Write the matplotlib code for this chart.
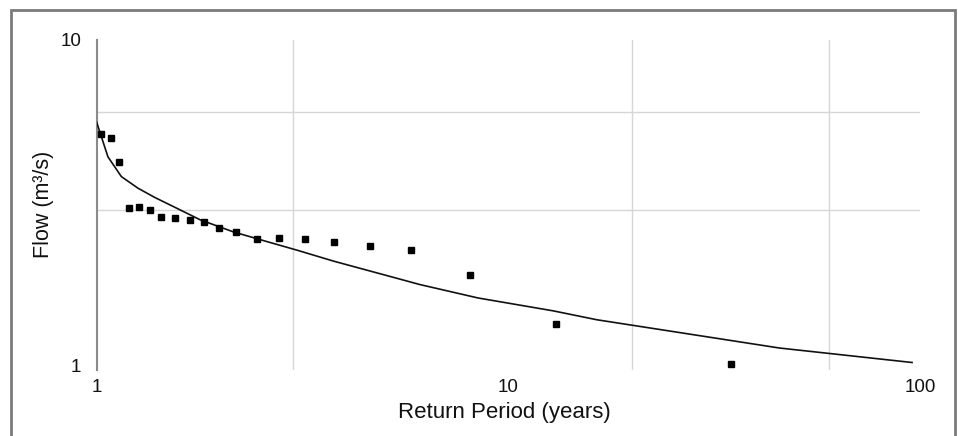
import matplotlib
matplotlib.use("Agg")
import matplotlib.pyplot as plt
from matplotlib.patches import Rectangle
from matplotlib.ticker import NullFormatter, FixedLocator

plt.rcParams['font.family'] = ['Liberation Sans', 'DejaVu Sans']

# Observed annual flows vs return period
obs_period = [1.024, 1.083, 1.134, 1.197, 1.268, 1.347, 1.436, 1.548, 1.684, 1.824,
              1.978, 2.181, 2.449, 2.778, 3.208, 3.778, 4.613, 5.80, 8.07, 13.05, 34.8]
obs_flow = [5.12, 4.98, 4.20, 3.05, 3.06, 3.00, 2.85, 2.83, 2.80, 2.75,
            2.65, 2.57, 2.44, 2.46, 2.44, 2.39, 2.33, 2.26, 1.89, 1.34, 1.01]

# Fitted distribution curve
fit_period = [1.0, 1.066, 1.149, 1.261, 1.384, 1.548, 1.784, 2.148, 2.59, 3.06, 3.76,
              5.45, 6.10, 8.44, 12.84, 16.4, 26.1, 45.5, 95.5]
fit_flow = [5.60, 4.37, 3.80, 3.50, 3.28, 3.06, 2.80, 2.57, 2.40, 2.26, 2.09,
            1.84, 1.77, 1.61, 1.47, 1.38, 1.26, 1.13, 1.02]

x_major = [1, 10, 100]
x_major_labels = ["1", "10", "100"]
y_major = [1, 10]
y_major_labels = ["1", "10"]
x_grid = [3, 20, 60]
y_grid = [3, 6]

W, H = 958, 436
fig = plt.figure(figsize=(W / 100, H / 100), dpi=100)
fig.patch.set_facecolor('white')

left, right, top, bottom = 96.5, 920.3, 39.8, 369.6
ax = fig.add_axes([left / W, 1 - bottom / H, (right - left) / W, (bottom - top) / H])
ax.set_xscale('log')
ax.set_yscale('log')
ax.set_xlim(1, 100)
ax.set_ylim(0.97, 10)

ax.plot(fit_period, fit_flow, color='#111111', lw=1.2, zorder=3)
ax.plot(obs_period, obs_flow, linestyle='none', marker='s', markersize=4.0,
        color='#000000', zorder=4)

ax.xaxis.set_major_locator(FixedLocator(x_major))
ax.set_xticklabels(x_major_labels)
ax.yaxis.set_major_locator(FixedLocator(y_major))
ax.set_yticklabels(y_major_labels)
ax.xaxis.set_minor_locator(FixedLocator(x_grid))
ax.yaxis.set_minor_locator(FixedLocator(y_grid))
ax.xaxis.set_minor_formatter(NullFormatter())
ax.yaxis.set_minor_formatter(NullFormatter())
ax.grid(which='minor', color='#d6d6d6', lw=1.0)
ax.grid(which='major', visible=False)
ax.tick_params(which='both', length=0)
ax.tick_params(axis='x', which='major', pad=7, labelsize=13.5, colors='#111111')
ax.tick_params(axis='y', which='major', pad=11, labelsize=13.5, colors='#111111')

for s in ['top', 'right', 'bottom']:
    ax.spines[s].set_visible(False)
ax.spines['left'].set_color('#8a8a8a')
ax.spines['left'].set_linewidth(1.5)

fig.text(504 / W, 1 - 412 / H, "Return Period (years)", ha='center', va='center',
         fontsize=16, color='#111111')
fig.text(43 / W, 1 - 204 / H, "Flow (m³/s)", ha='center', va='center',
         rotation=90, fontsize=15.5, color='#111111')

fig.add_artist(Rectangle((10.5 / W, -5 / H), (955 - 10.5) / W, (436 - 10.5 + 5) / H,
                         transform=fig.transFigure, fill=False,
                         edgecolor='#7a7a7a', lw=2))

fig.savefig("out.png", dpi=100)
